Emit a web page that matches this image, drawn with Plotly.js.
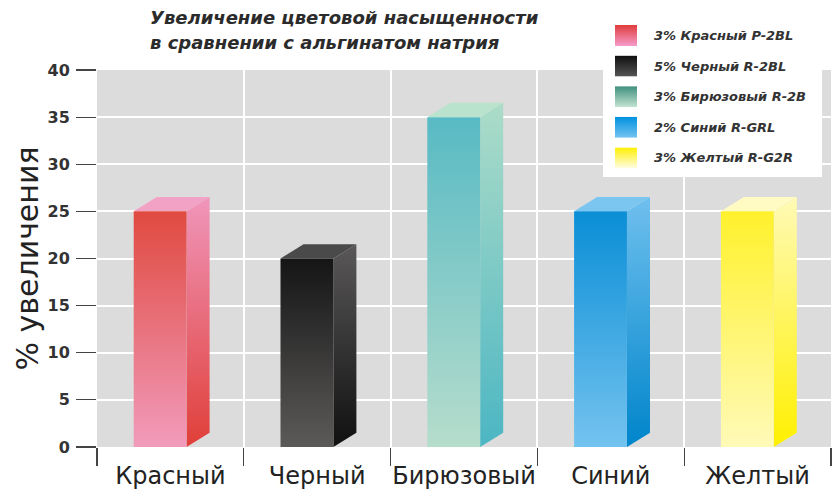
<!DOCTYPE html>
<html><head><meta charset="utf-8">
<script src="https://cdn.plot.ly/plotly-3.0.1.min.js"></script>
<style>html,body{margin:0;padding:0;background:#fff}#chart{width:835px;height:491px}</style>
</head><body><div id="chart"></div>
<script>
// ---- data ----
const categories = ['Красный', 'Черный', 'Бирюзовый', 'Синий', 'Желтый'];
const values = [25, 20, 35, 25, 25];
const legendLabels = ['3% Красный P-2BL', '5% Черный R-2BL', '3% Бирюзовый R-2B', '2% Синий R-GRL', '3% Желтый R-G2R'];
const titleLines = ['Увеличение цветовой насыщенности', 'в сравнении с альгинатом натрия'];
const yTitle = '% увеличения';
const yTicks = [0, 5, 10, 15, 20, 25, 30, 35, 40];

// ---- styles ----
const frontTop    = ['#e04a40', '#151515', '#58bac4', '#0a8ed6', '#fff12c'];
const frontBottom = ['#f19bbb', '#5c5a59', '#b6ddcc', '#74c3ef', '#fffab8'];
const sideTop     = ['#f096bb', '#5a5858', '#acdcc8', '#6fc0ee', '#fffab6'];
const sideBottom  = ['#e03f38', '#101010', '#4cb6c3', '#0085cb', '#fff000'];
const topFace     = ['#f2a2c4', '#4b4a4a', '#b9e3cd', '#7ac6f0', '#fffbc2'];
const swatchTop    = ['#e03c3c', '#0e0e0e', '#3f8f7e', '#0090df', '#fff000'];
const swatchBottom = ['#f59ccb', '#555555', '#c4e4d2', '#74c4f2', '#fffde6'];

const FRONT_L = -0.25, FRONT_W = 0.36, DX = 0.157, DY = 1.52;

const W = 835, H = 491, ML = 97, MR = 4, MT = 70, MB = 44;
const PW = W - ML - MR, PH = H - MT - MB;
const px2x = p => (p - ML) / PW;
const px2y = p => (H - MB - p) / PH;

const traces = [];
values.forEach((v, i) => {
  const l = i + FRONT_L, r = l + FRONT_W;
  traces.push({
    type: 'scatter', mode: 'lines', hoverinfo: 'skip', showlegend: false,
    x: [r, r, r + DX, r + DX, r], y: [0, v, v + DY, DY, 0],
    fill: 'toself', line: {width: 0, color: sideBottom[i]},
    fillgradient: {type: 'vertical', colorscale: [[0, sideBottom[i]], [1, sideTop[i]]], start: 0, stop: v + DY}
  });
  traces.push({
    type: 'scatter', mode: 'lines', hoverinfo: 'skip', showlegend: false,
    x: [l, r, r + DX, l + DX, l], y: [v, v, v + DY, v + DY, v],
    fill: 'toself', fillcolor: topFace[i], line: {width: 0, color: topFace[i]}
  });
  traces.push({
    type: 'scatter', mode: 'lines', hoverinfo: 'skip', showlegend: false, name: categories[i],
    x: [l, r, r, l, l], y: [0, 0, v, v, 0],
    fill: 'toself', line: {width: 0, color: frontTop[i]},
    fillgradient: {type: 'vertical', colorscale: [[0, frontBottom[i]], [1, frontTop[i]]], start: 0, stop: v}
  });
});

function svgURI(svg) { return 'data:image/svg+xml;charset=utf-8,' + encodeURIComponent(svg); }

const images = [];
const annotations = [];
const BOX = {x0: 603, y0: 18, x1: 822, y1: 177};
images.push({
  source: svgURI('<svg xmlns="http://www.w3.org/2000/svg" width="10" height="10"><rect width="10" height="10" fill="#ffffff"/></svg>'),
  xref: 'paper', yref: 'paper', x: px2x(BOX.x0), y: px2y(BOX.y0),
  sizex: (BOX.x1 - BOX.x0) / PW, sizey: (BOX.y1 - BOX.y0) / PH,
  xanchor: 'left', yanchor: 'top', sizing: 'stretch', layer: 'above'
});
const SW = {x: 615, y: 25, w: 22, h: 21, step: 30.6, textX: 652};
legendLabels.forEach((lab, i) => {
  const top = SW.y + i * SW.step;
  const svg = '<svg xmlns="http://www.w3.org/2000/svg" width="22" height="21" preserveAspectRatio="none">' +
    '<defs><linearGradient id="g" x1="0" y1="0" x2="0" y2="1">' +
    '<stop offset="0" stop-color="' + swatchTop[i] + '"/><stop offset="1" stop-color="' + swatchBottom[i] + '"/>' +
    '</linearGradient></defs><rect width="22" height="21" fill="url(#g)"/></svg>';
  images.push({
    source: svgURI(svg), xref: 'paper', yref: 'paper',
    x: px2x(SW.x), y: px2y(top), sizex: SW.w / PW, sizey: SW.h / PH,
    xanchor: 'left', yanchor: 'top', sizing: 'stretch', layer: 'above'
  });
  annotations.push({
    text: lab, xref: 'paper', yref: 'paper', x: px2x(SW.textX), y: px2y(top + SW.h / 2),
    xanchor: 'left', yanchor: 'middle', showarrow: false,
    font: {family: 'DejaVu Sans', size: 13, weight: 'bold', style: 'italic', color: '#333333'}
  });
});

// title as two left-aligned lines
const TITLE = {x: 148, y: [18, 42]};
titleLines.forEach((t, k) => {
  annotations.push({
    text: t, xref: 'paper', yref: 'paper', x: px2x(TITLE.x), y: px2y(TITLE.y[k]),
    xanchor: 'left', yanchor: 'middle', showarrow: false,
    font: {family: 'DejaVu Sans', size: 18, weight: 'bold', style: 'italic', color: '#2b2b2b'}
  });
});

const layout = {
  width: W, height: H,
  margin: {l: ML, r: MR, t: MT, b: MB},
  paper_bgcolor: '#ffffff', plot_bgcolor: '#dcdcdc',
  showlegend: false,
  xaxis: {
    range: [-0.5, 4.5], fixedrange: true,
    tickmode: 'array', tickvals: categories.map((c, i) => i), ticktext: categories,
    ticks: 'outside', ticklen: 7, tickcolor: 'rgba(0,0,0,0)',
    showgrid: false, zeroline: false, showline: false,
    tickfont: {family: 'DejaVu Sans', size: 24, color: '#222222'},
    minor: {tick0: -0.5, dtick: 1, ticks: 'outside', ticklen: 18, tickwidth: 1.2, tickcolor: '#444444',
            showgrid: true, gridcolor: '#ffffff', gridwidth: 2}
  },
  yaxis: {
    range: [0, 40], fixedrange: true,
    tickmode: 'array', tickvals: yTicks, ticktext: yTicks.map(String),
    ticks: 'outside', ticklen: 20, tickwidth: 1.2, tickcolor: '#444444',
    showgrid: true, gridcolor: '#ffffff', gridwidth: 2, zeroline: false, showline: false,
    tickfont: {family: 'DejaVu Sans', size: 16, weight: 'bold', color: '#333333'},
    ticklabelstandoff: 3,
    title: {text: yTitle, standoff: 0, font: {family: 'DejaVu Sans', size: 30, color: '#222222'}}
  },
  images: images,
  annotations: annotations
};

Plotly.newPlot('chart', traces, layout, {displayModeBar: false, staticPlot: true});
</script>
</body></html>
